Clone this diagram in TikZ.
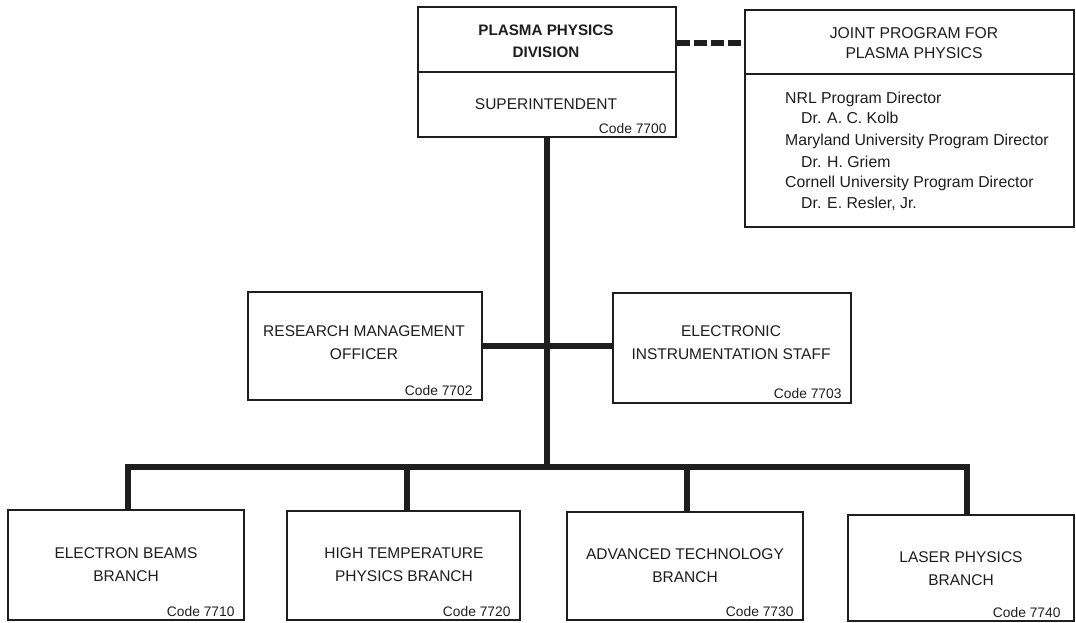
\documentclass[tikz,border=0pt]{standalone}
\usepackage{fontspec}
\setmainfont{Liberation Sans}
\definecolor{ink}{HTML}{1E1E1E}
\begin{document}
\begin{tikzpicture}[x=1pt,y=-1pt,
  box/.style={draw=ink,line width=1.4pt,inner sep=0pt,fill=white},
  lbl/.style={text=ink,font=\fontsize{15.5}{23}\selectfont,align=center,inner sep=0pt},
  blbl/.style={text=ink,font=\bfseries\fontsize{15.2}{22}\selectfont,align=center,inner sep=0pt},
  jlbl/.style={text=ink,font=\fontsize{15.7}{20}\selectfont,align=center,inner sep=0pt},
  item/.style={text=ink,font=\fontsize{15.8}{21}\selectfont,inner sep=0pt,anchor=base west},
  code/.style={text=ink,font=\fontsize{13.8}{16}\selectfont,inner sep=0pt,anchor=base east},
  conn/.style={draw=ink,line width=5.5pt,line join=miter},
  dconn/.style={draw=ink,line width=6pt,dash pattern=on 13pt off 4pt}]
\useasboundingbox (0,0) rectangle (1076,622);
\fill[white] (0,0) rectangle (1076,622);

\coordinate (bus) at (547,467);

% top box
\node[box,minimum width=258pt,minimum height=130pt] (top) at (547,72) {};
\draw[draw=ink,line width=1.4pt] (top.west) -- (top.east);
\node[blbl] (topt) at (546,41) {PLASMA PHYSICS\\DIVISION};
\node[lbl] (supt) at (546,104) {SUPERINTENDENT};
\node[code] (c7700) at ([xshift=-10pt,yshift=4pt]top.south east) {Code 7700};

% joint program box
\node[box,minimum width=329pt,minimum height=217pt] (joint) at (909.5,118.5) {};
\draw[draw=ink,line width=1.4pt] ([yshift=44.5pt]joint.west) -- ([yshift=44.5pt]joint.east);
\node[jlbl] (jtitle) at (914,43) {JOINT PROGRAM FOR\\PLASMA PHYSICS};
\node[item] (j1) at (785,103.5) {NRL Program Director};
\node[item] (j2) at (801,123.5) {Dr. A. C. Kolb};
\node[item] (j3) at (785,145.5) {Maryland University Program Director};
\node[item] (j4) at (801,167.5) {Dr. H. Griem};
\node[item] (j5) at (785,187.5) {Cornell University Program Director};
\node[item] (j6) at (801,208.5) {Dr. E. Resler, Jr.};

% staff boxes
\node[box,minimum width=234pt,minimum height=108pt] (rmo) at (365,346) {};
\node[lbl] (rmot) at (364,342.5) {RESEARCH MANAGEMENT\\OFFICER};
\node[code] (c7702) at ([xshift=-10pt,yshift=5pt]rmo.south east) {Code 7702};

\node[box,minimum width=238pt,minimum height=110pt] (eis) at (732,348) {};
\node[lbl] (eist) at (731,342.5) {ELECTRONIC\\INSTRUMENTATION STAFF};
\node[code] (c7703) at ([xshift=-10pt,yshift=5pt]eis.south east) {Code 7703};

% branch boxes
\node[box,minimum width=236pt,minimum height=110pt] (b1) at (126,565) {};
\node[lbl] (b1t) at (126,564.5) {ELECTRON BEAMS\\BRANCH};
\node[code] (c7710) at ([xshift=-10pt,yshift=4.5pt]b1.south east) {Code 7710};

\node[box,minimum width=233pt,minimum height=109pt] (b2) at (403.5,565.5) {};
\node[lbl] (b2t) at (404,564.5) {HIGH TEMPERATURE\\PHYSICS BRANCH};
\node[code] (c7720) at ([xshift=-10pt,yshift=4.5pt]b2.south east) {Code 7720};

\node[box,minimum width=236pt,minimum height=108pt] (b3) at (685,566) {};
\node[lbl] (b3t) at (685,565.5) {ADVANCED TECHNOLOGY\\BRANCH};
\node[code] (c7730) at ([xshift=-10pt,yshift=4.5pt]b3.south east) {Code 7730};

\node[box,minimum width=226pt,minimum height=106pt] (b4) at (961,568) {};
\node[lbl] (b4t) at (961,568.5) {LASER PHYSICS\\BRANCH};
\node[code] (c7740) at ([xshift=-14pt,yshift=4pt]b4.south east) {Code 7740};

% connectors
\draw[dconn] (top.east |- jtitle) -- (joint.west |- jtitle);
\draw[conn] (top.south) -- (bus);
\draw[conn] (rmo.east) -- (eis.west |- rmo.east);
\draw[conn] ([xshift=2pt]b1.north) -- ([xshift=2pt]b1.north |- bus) -- ([xshift=6pt]b4.north |- bus) -- ([xshift=6pt]b4.north);
\draw[conn] ([xshift=3.5pt]b2.north) -- ([xshift=3.5pt]b2.north |- bus);
\draw[conn] ([xshift=2pt]b3.north) -- ([xshift=2pt]b3.north |- bus);
\end{tikzpicture}
\end{document}
